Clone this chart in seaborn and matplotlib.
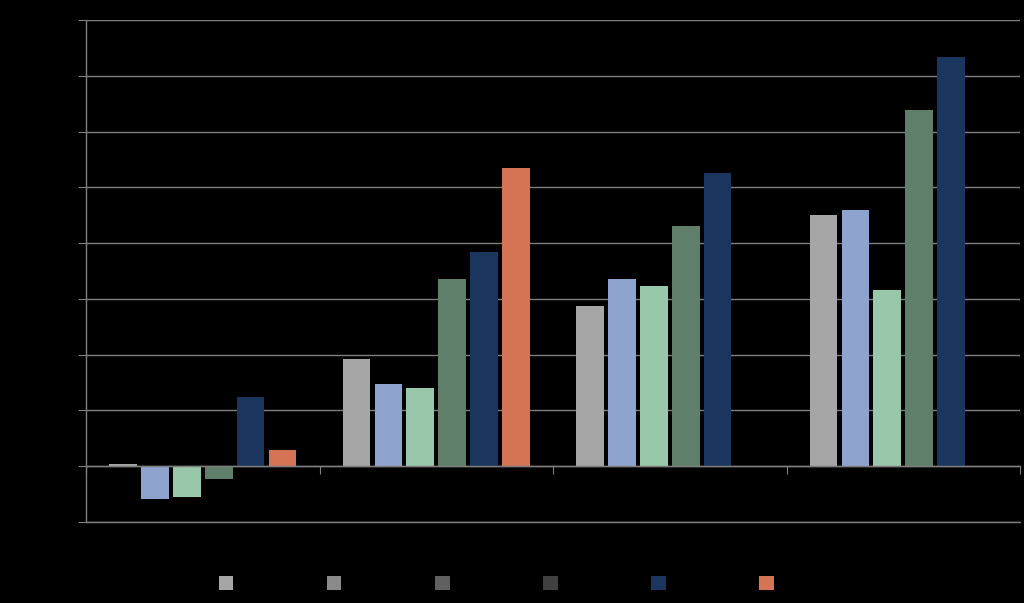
import matplotlib.pyplot as plt
import matplotlib.patches as mpatches
import seaborn as sns
import pandas as pd
import numpy as np

groups = ["Group A", "Group B", "Group C", "Group D"]
series = ["Series 1", "Series 2", "Series 3", "Series 4", "Series 5", "Series 6"]

s1 = [0.04, 1.92, 2.87, 4.51]
s2 = [-0.59, 1.47, 3.36, 4.60]
s3 = [-0.56, 1.40, 3.23, 3.16]
s4 = [-0.23, 3.36, 4.31, 6.39]
s5 = [1.24, 3.84, 5.26, 7.34]
s6 = [0.29, 5.35, np.nan, np.nan]

bar_colors = ["#A6A6A6", "#8FA3CF", "#98C7A9", "#5F7F6B", "#1A365F", "#D57455"]
legend_colors = ["#A6A6A6", "#8A8A8A", "#606060", "#404040", "#1A365F", "#D57455"]

y_ticks = [-1, 0, 1, 2, 3, 4, 5, 6, 7, 8]

rows = []
for name, vals in zip(series, [s1, s2, s3, s4, s5, s6]):
    for g, v in zip(groups, vals):
        rows.append({"group": g, "series": name, "value": v})
df = pd.DataFrame(rows)

sns.set_style("dark")
plt.rcParams['font.family'] = ['Liberation Sans', 'DejaVu Sans']

fig = plt.figure(figsize=(10.24, 6.03), dpi=100, facecolor="black")
ax = fig.add_axes([86 / 1024, 1 - 522 / 603, 934 / 1024, 502 / 603])
ax.set_facecolor("black")

sns.barplot(data=df, x="group", y="value", hue="series", hue_order=series,
            palette=bar_colors, saturation=1, width=0.82, gap=0.13, linewidth=0,
            legend=False, ax=ax, zorder=3)

ax.set_xlim(-0.5, 3.5)
ax.set_ylim(-1, 8)
ax.set_yticks(y_ticks)
ax.set_yticklabels([str(t) for t in y_ticks], color="black")
ax.yaxis.grid(True, color="#7F7F7F", linewidth=1)
ax.axhline(-1, color="#7F7F7F", linewidth=1, clip_on=False, zorder=1)
ax.xaxis.grid(False)
ax.set_xlabel("")
ax.set_ylabel("")

# spines
for side in ["top", "right"]:
    ax.spines[side].set_visible(False)
ax.spines["left"].set_color("#7F7F7F")
ax.spines["left"].set_linewidth(1)
ax.spines["bottom"].set_position(("data", 0))
ax.spines["bottom"].set_color("#7F7F7F")
ax.spines["bottom"].set_linewidth(1)
ax.spines["bottom"].set_zorder(4)

ax.tick_params(axis="y", direction="out", length=6, color="#7F7F7F", left=True)
ax.set_xticks([-0.5, 0.5, 1.5, 2.5, 3.5])
ax.set_xticklabels([])
ax.tick_params(axis="x", direction="out", length=6, color="#7F7F7F", bottom=True)

# category labels (black, under the plot)
for i, g in enumerate(groups):
    ax.text(i, -1.25, g, color="black", ha="center", va="top", fontsize=10)

handles = [mpatches.Patch(facecolor=c, edgecolor="none", label=s)
           for c, s in zip(legend_colors, series)]
leg = fig.legend(handles=handles, loc="center", bbox_to_anchor=(0.513, 1 - 583 / 603),
                 ncol=6, frameon=False, handlelength=1.05, handleheight=1.2,
                 handletextpad=0.5, columnspacing=2.55, fontsize=10)
for t in leg.get_texts():
    t.set_color("black")

fig.savefig("out.png", dpi=100, facecolor="black")
